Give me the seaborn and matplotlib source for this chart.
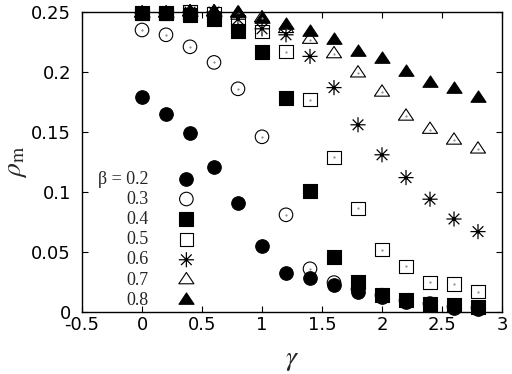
import matplotlib
matplotlib.use("Agg")
import matplotlib.pyplot as plt
from matplotlib.path import Path
import seaborn as sns

# ---------------- data ----------------
gamma = [0.0, 0.2, 0.4, 0.6, 0.8, 1.0, 1.2, 1.4, 1.6, 1.8, 2.0, 2.2, 2.4, 2.6, 2.8]

rho_b02 = [0.179, 0.165, 0.149, 0.121, 0.0906, 0.055, 0.0328, 0.028, 0.0225,
           0.017, 0.0125, 0.0083, 0.006, 0.0033, 0.0028]
rho_b03 = [0.235, 0.231, 0.221, 0.208, 0.186, 0.146, 0.081, 0.036, 0.0245,
           0.019, 0.014, 0.0095, 0.007, 0.0045, 0.0035]
rho_b04 = [0.249, 0.249, 0.2475, 0.244, 0.234, 0.217, 0.178, 0.101, 0.046,
           0.025, 0.0144, 0.0097, 0.007, 0.0056, 0.0042]
rho_b05 = [0.249, 0.249, 0.25, 0.249, 0.242, 0.234, 0.217, 0.177, 0.129,
           0.0864, 0.052, 0.038, 0.0247, 0.0233, 0.017]
rho_b06 = [0.249, 0.249, 0.25, 0.25, 0.244, 0.236, 0.231, 0.213, 0.187,
           0.156, 0.131, 0.112, 0.094, 0.0775, 0.067]
rho_b07 = [0.249, 0.249, 0.25, 0.25, 0.249, 0.245, 0.236, 0.227, 0.215,
           0.199, 0.183, 0.163, 0.152, 0.143, 0.1356]
rho_b08 = [0.249, 0.249, 0.25, 0.25, 0.2495, 0.2445, 0.2395, 0.233, 0.227,
           0.217, 0.2106, 0.1997, 0.1906, 0.1856, 0.1786]

beta_labels = ["β = 0.2", "0.3", "0.4", "0.5", "0.6", "0.7", "0.8"]

xticks = [-0.5, 0, 0.5, 1, 1.5, 2, 2.5, 3]
xtick_labels = ["-0.5", "0", "0.5", "1", "1.5", "2", "2.5", "3"]
yticks = [0, 0.05, 0.1, 0.15, 0.2, 0.25]
ytick_labels = ["0", "0.05", "0.1", "0.15", "0.2", "0.25"]

# ---------------- style ----------------
sns.set_style("ticks", {"xtick.direction": "in", "ytick.direction": "in"})
plt.rcParams["font.family"] = ["DejaVu Sans"]
plt.rcParams["mathtext.fontset"] = "stix"

# custom gnuplot-like markers
asterisk = Path(
    [(-1, 0), (1, 0), (0, -1), (0, 1),
     (-0.707, -0.707), (0.707, 0.707), (-0.707, 0.707), (0.707, -0.707)],
    [Path.MOVETO, Path.LINETO] * 4)
triangle = Path([(-1, -0.5), (1, -0.5), (0, 1.0), (-1, -0.5)],
                [Path.MOVETO, Path.LINETO, Path.LINETO, Path.CLOSEPOLY])

series = [
    (rho_b02, "o", 95, "black", 0.8, False),
    (rho_b03, "o", 95, "none", 0.8, True),
    (rho_b04, "s", 92, "black", 0.8, False),
    (rho_b05, "s", 92, "none", 0.8, True),
    (rho_b06, asterisk, 118, "none", 0.9, True),
    (rho_b07, triangle, 118, "none", 0.8, True),
    (rho_b08, triangle, 118, "black", 0.8, False),
]

fig = plt.figure(figsize=(5.12, 3.74), dpi=100)
ax = fig.add_axes([82 / 512, (374 - 312) / 374, 420 / 512, 300 / 374])

handles = {}
# draw highest beta first so low-beta markers end on top
for i in range(len(series) - 1, -1, -1):
    vals, mk, size, fc, lw, dot = series[i]
    sns.scatterplot(x=gamma, y=vals, marker=mk, s=size, facecolor=fc,
                    edgecolor="black", linewidth=lw, ax=ax, clip_on=False,
                    zorder=3 + (len(series) - i), label=beta_labels[i])
    handles[i] = ax.collections[-1]
    if dot:
        sns.scatterplot(x=gamma, y=vals, marker="o", s=2.5,
                        color="black" if mk is asterisk else "0.55",
                        linewidth=0, ax=ax, clip_on=False,
                        zorder=3 + (len(series) - i))

ax.set_xlim(-0.5, 3)
ax.set_ylim(0, 0.25)
ax.set_xticks(xticks)
ax.set_xticklabels(xtick_labels)
ax.set_yticks(yticks)
ax.set_yticklabels(ytick_labels)
ax.tick_params(axis="both", which="both", direction="in", top=True, right=True,
               length=4, width=0.8, labelsize=13, color="black",
               labelcolor="black")
ax.tick_params(axis="x", pad=3)
ax.tick_params(axis="y", pad=8)
for sp in ax.spines.values():
    sp.set_visible(True)
    sp.set_linewidth(1.0)
    sp.set_color("black")

ax.set_xlabel(r"$\gamma$", fontsize=20, labelpad=8)
ax.set_ylabel(r"$\rho_{\rm m}$", fontsize=20, labelpad=1)

leg = ax.legend([handles[i] for i in range(len(series))], beta_labels,
                loc="lower left", bbox_to_anchor=(0.038, 0.01),
                frameon=False, markerfirst=False, handlelength=1.0,
                handletextpad=1.6, labelspacing=0.18, borderpad=0,
                borderaxespad=0, scatterpoints=1,
                prop={"family": "Liberation Serif", "size": 13})

fig.savefig("out.png", dpi=100, facecolor="white")
